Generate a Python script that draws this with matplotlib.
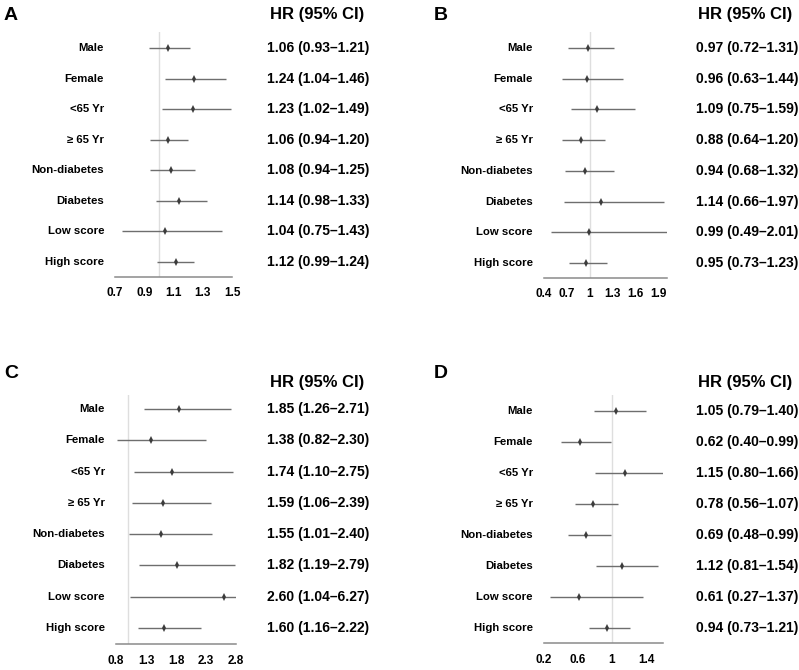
import numpy as np
import matplotlib
matplotlib.use("Agg")
import matplotlib.pyplot as plt
import matplotlib.transforms as mtransforms

plt.rcParams['font.family'] = ['Liberation Sans', 'DejaVu Sans']

groups = ["Male", "Female", "<65 Yr", "\u2265 65 Yr", "Non-diabetes",
          "Diabetes", "Low score", "High score"]

hr_a = [1.06, 1.24, 1.23, 1.06, 1.08, 1.14, 1.04, 1.12]
lo_a = [0.93, 1.04, 1.02, 0.94, 0.94, 0.98, 0.75, 0.99]
hi_a = [1.21, 1.46, 1.49, 1.20, 1.25, 1.33, 1.43, 1.24]

hr_b = [0.97, 0.96, 1.09, 0.88, 0.94, 1.14, 0.99, 0.95]
lo_b = [0.72, 0.63, 0.75, 0.64, 0.68, 0.66, 0.49, 0.73]
hi_b = [1.31, 1.44, 1.59, 1.20, 1.32, 1.97, 2.01, 1.23]

hr_c = [1.85, 1.38, 1.74, 1.59, 1.55, 1.82, 2.60, 1.60]
lo_c = [1.26, 0.82, 1.10, 1.06, 1.01, 1.19, 1.04, 1.16]
hi_c = [2.71, 2.30, 2.75, 2.39, 2.40, 2.79, 6.27, 2.22]

hr_d = [1.05, 0.62, 1.15, 0.78, 0.69, 1.12, 0.61, 0.94]
lo_d = [0.79, 0.40, 0.80, 0.56, 0.48, 0.81, 0.27, 0.73]
hi_d = [1.40, 0.99, 1.66, 1.07, 0.99, 1.54, 1.37, 1.21]

ticks_a = [0.7, 0.9, 1.1, 1.3, 1.5]
ticks_b = [0.4, 0.7, 1, 1.3, 1.6, 1.9]
ticks_c = [0.8, 1.3, 1.8, 2.3, 2.8]
ticks_d = [0.2, 0.6, 1, 1.4]

W, H = 799, 670
fig = plt.figure(figsize=(W / 100, H / 100), dpi=100)
fig.set_facecolor("white")


def panel(letter, hr, lo, hi, ticks, xlim, box, row0, row7, letter_xy, head_xy,
          lab_x, val_x, tick_y):
    left, right, top, bottom = box
    ax = fig.add_axes([left / W, 1 - bottom / H, (right - left) / W, (bottom - top) / H])
    step = (row7 - row0) / 7.0
    y_top = -(row0 - top) / step
    y_bot = 7 + (bottom - row7) / step
    ax.set_xlim(*xlim)
    ax.set_ylim(y_bot, y_top)
    ax.axvline(1, color="#dedede", lw=1, zorder=1)
    y = np.arange(len(groups))
    # confidence intervals are cut at the axis limits
    lo_cut = np.clip(lo, xlim[0], xlim[1])
    hi_cut = np.clip(hi, xlim[0], xlim[1])
    ax.hlines(y, lo_cut, hi_cut, color="#6e6e6e", lw=1.0, zorder=2)
    ax.plot(hr, y, linestyle="none", marker="d", markersize=4,
            markeredgewidth=0, color="#3c3c3c", zorder=3)
    for s in ["top", "right", "left"]:
        ax.spines[s].set_visible(False)
    ax.spines["bottom"].set_color("#8a8a8a")
    ax.spines["bottom"].set_linewidth(1.1)
    ax.set_yticks([])
    ax.set_xticks(ticks)
    ax.set_xticklabels([f"{t:g}" for t in ticks], fontsize=8.5, fontweight="bold")
    ax.tick_params(axis="x", length=0, pad=(tick_y - bottom) - 8)

    tr = mtransforms.blended_transform_factory(fig.transFigure, ax.transData)
    for i, g in enumerate(groups):
        ax.text(lab_x / W, i, g, transform=tr, ha="right", va="center",
                fontsize=8.2, fontweight="bold")
        ax.text(val_x / W, i, f"{hr[i]:.2f} ({lo[i]:.2f}\u2013{hi[i]:.2f})",
                transform=tr, ha="left", va="center", fontsize=10,
                fontweight="bold")
    fig.text(letter_xy[0] / W, 1 - letter_xy[1] / H, letter, fontsize=14,
             fontweight="bold", ha="left", va="center")
    fig.text(head_xy[0] / W, 1 - head_xy[1] / H, "HR (95% CI)", fontsize=12,
             fontweight="bold", ha="center", va="center")
    return ax


panel("A", hr_a, lo_a, hi_a, ticks_a, (0.7, 1.5), (115, 232, 32, 277),
      48, 262, (4, 15), (317, 14), 104, 267, 292)
panel("B", hr_b, lo_b, hi_b, ticks_b, (0.4, 2.01), (544, 667, 32, 278),
      48, 263, (434, 15), (745, 14), 533, 696, 293)
panel("C", hr_c, lo_c, hi_c, ticks_c, (0.8, 2.8), (116, 236, 395, 644),
      409, 628, (4, 373), (317, 382), 105, 267, 660)
panel("D", hr_d, lo_d, hi_d, ticks_d, (0.2, 1.6), (544, 663, 395, 643),
      411, 628, (434, 373), (745, 382), 533, 696, 659)

fig.savefig("out.png", dpi=100, facecolor="white")
